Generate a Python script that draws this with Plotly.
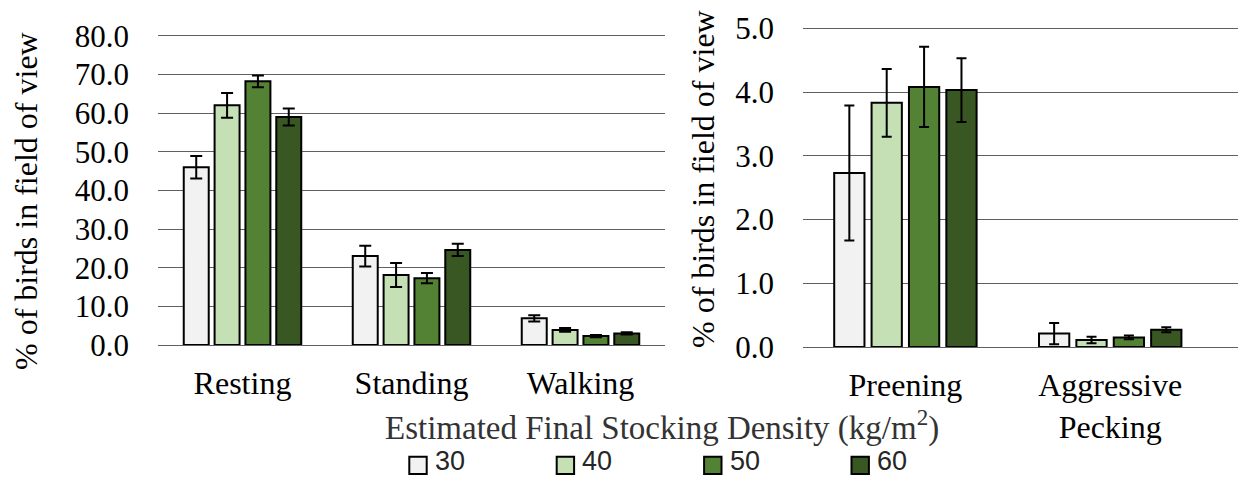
import plotly.graph_objects as go

densities = ["30", "40", "50", "60"]
colors = ["#f2f2f2", "#c5e0b4", "#548235", "#385723"]

left_categories = ["Resting", "Standing", "Walking"]
left_values = {
    "30": [46.0, 23.0, 6.9],
    "40": [62.0, 18.1, 3.9],
    "50": [68.2, 17.3, 2.3],
    "60": [59.0, 24.6, 3.0],
}
left_errors = {
    "30": [2.9, 2.7, 0.8],
    "40": [3.2, 3.1, 0.5],
    "50": [1.5, 1.3, 0.3],
    "60": [2.2, 1.6, 0.3],
}

right_categories = ["Preening", "Aggressive<br>Pecking"]
right_values = {
    "30": [2.73, 0.21],
    "40": [3.83, 0.11],
    "50": [4.08, 0.15],
    "60": [4.03, 0.27],
}
right_errors = {
    "30": [1.06, 0.165],
    "40": [0.53, 0.05],
    "50": [0.63, 0.03],
    "60": [0.50, 0.04],
}

left_ticks = [0, 10, 20, 30, 40, 50, 60, 70, 80]
right_ticks = [0, 1, 2, 3, 4, 5]

y_title = "% of birds in field of view"
x_title = "Estimated Final Stocking Density (kg/m<sup>2</sup>)"

SERIF = "Liberation Serif, Times New Roman, serif"
W, H = 1238, 478


def px(xp):
    return xp / W


def py(yp):
    return 1 - yp / H


fig = go.Figure()

for d, c in zip(densities, colors):
    fig.add_trace(go.Bar(
        x=left_categories, y=left_values[d], name=d,
        marker=dict(color=c, line=dict(color="black", width=2)),
        error_y=dict(type="data", array=left_errors[d], color="black", thickness=2, width=6),
        xaxis="x", yaxis="y", showlegend=False,
    ))
    fig.add_trace(go.Bar(
        x=right_categories, y=right_values[d], name=d,
        marker=dict(color=c, line=dict(color="black", width=2)),
        error_y=dict(type="data", array=right_errors[d], color="black", thickness=2, width=5),
        xaxis="x2", yaxis="y2", showlegend=False,
    ))

grid = dict(showgrid=True, gridcolor="#606060", gridwidth=1.4,
            zeroline=True, zerolinecolor="#606060", zerolinewidth=1.4,
            showline=False, ticks="", tickformat=".1f", automargin=False,
            ticklabelstandoff=28,
            tickfont=dict(family=SERIF, size=31, color="black"))

catfont = dict(family=SERIF, size=32, color="black")

# legend (title above a row of swatches), placed below the charts
legend_shapes = []
legend_labels = []
sw_left0, sw_step, sw_size, sw_top = 409.3, 147.4, 17.4, 456.7
for i, (d, c) in enumerate(zip(densities, colors)):
    x0 = sw_left0 + i * sw_step
    legend_shapes.append(dict(
        type="rect", xref="paper", yref="paper",
        x0=px(x0), x1=px(x0 + sw_size), y0=py(sw_top + sw_size), y1=py(sw_top),
        fillcolor=c, line=dict(color="black", width=2), layer="above",
    ))
    legend_labels.append(dict(
        text=d, x=px(x0 + sw_size + 6), y=py(477.5), xref="paper", yref="paper",
        showarrow=False, xanchor="left", yanchor="bottom",
        font=dict(family="Liberation Sans Narrow, Arial Narrow, Liberation Sans, sans-serif",
                  size=27, color="#262626"),
    ))

fig.update_layout(
    width=W, height=H,
    margin=dict(l=0, r=0, t=0, b=0),
    paper_bgcolor="white", plot_bgcolor="white",
    barmode="group", bargap=0.27, bargroupgap=0.19,
    showlegend=False,
    font=dict(family=SERIF, color="black"),
    xaxis=dict(domain=[px(158), px(665)], anchor="y", showgrid=False, ticks="",
               range=[-0.5, 2.5], ticklabelstandoff=16, automargin=False,
               tickfont=catfont),
    yaxis=dict(domain=[py(345), py(34.6)], anchor="x", range=[0, 80.3],
               tickvals=left_ticks, **grid),
    xaxis2=dict(domain=[px(803), 1.0], anchor="y2", showgrid=False, ticks="",
                range=[-0.5, 1.624], ticklabelstandoff=16, automargin=False,
                tickfont=catfont),
    yaxis2=dict(domain=[py(347), py(27.0)], anchor="x2", range=[0, 5.02],
                tickvals=right_ticks, **grid),
    shapes=legend_shapes,
    annotations=[
        dict(text=y_title, x=px(26), y=py(201), xref="paper", yref="paper",
             textangle=-90, showarrow=False, xanchor="center", yanchor="middle",
             font=dict(family=SERIF, size=32, color="black")),
        dict(text=y_title, x=px(703), y=py(179), xref="paper", yref="paper",
             textangle=-90, showarrow=False, xanchor="center", yanchor="middle",
             font=dict(family=SERIF, size=32, color="black")),
        dict(text=x_title, x=px(661.5), y=py(425.5), xref="paper", yref="paper",
             showarrow=False, xanchor="center", yanchor="middle",
             font=dict(family=SERIF, size=33, color="#333333")),
    ] + legend_labels,
)

fig.write_html(
    "out.html",
    config={"displayModeBar": False},
    post_script="document.body.style.margin='0';document.body.style.overflow='hidden';",
)
